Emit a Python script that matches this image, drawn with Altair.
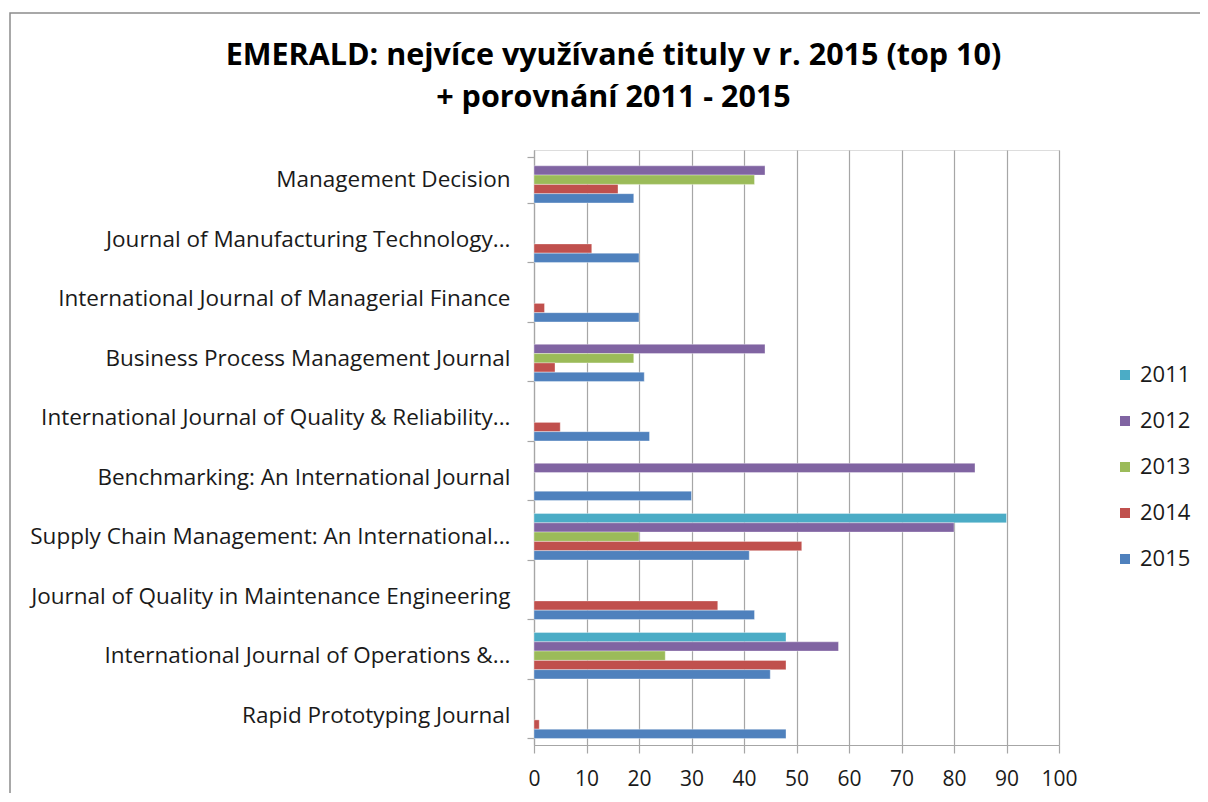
import altair as alt
import pandas as pd

journals = [
    "Management Decision",
    "Journal of Manufacturing Technology...",
    "International Journal of Managerial Finance",
    "Business Process Management Journal",
    "International Journal of Quality & Reliability...",
    "Benchmarking: An International Journal",
    "Supply Chain Management: An International...",
    "Journal of Quality in Maintenance Engineering",
    "International Journal of Operations &...",
    "Rapid Prototyping Journal",
]
years = ["2011", "2012", "2013", "2014", "2015"]
v2011 = [None, None, None, None, None, None, 90, None, 48, None]
v2012 = [44, None, None, 44, None, 84, 80, None, 58, None]
v2013 = [42, None, None, 19, None, None, 20, None, 25, None]
v2014 = [16, 11, 2, 4, 5, None, 51, 35, 48, 1]
v2015 = [19, 20, 20, 21, 22, 30, 41, 42, 45, 48]
colors = ["#4BACC6", "#8064A2", "#9BBB59", "#C0504D", "#4F81BD"]
x_ticks = [0, 10, 20, 30, 40, 50, 60, 70, 80, 90, 100]

rows = []
for yr, vals in zip(years, [v2011, v2012, v2013, v2014, v2015]):
    for j, v in zip(journals, vals):
        if v is not None:
            rows.append({"journal": j, "year": yr, "value": v})
df = pd.DataFrame(rows)

FONT = "Open Sans"
GRID = "#A6A6A6"
TEXT = "#1a1a1a"

bars = alt.Chart(df).mark_bar(stroke="white", strokeWidth=0.5, strokeOpacity=0.7).encode(
    x=alt.X("value:Q",
            scale=alt.Scale(domain=[0, 100], nice=False, zero=True),
            axis=alt.Axis(title=None, values=x_ticks, grid=True, gridColor=GRID,
                          gridWidth=1.2, domainColor=GRID, domainWidth=1.2,
                          tickColor=GRID, tickSize=8, tickWidth=1.2,
                          labelFont=FONT, labelFontSize=21, labelColor=TEXT,
                          labelPadding=15, labelFlush=False)),
    y=alt.Y("journal:N", sort=journals,
            scale=alt.Scale(paddingInner=0.22, paddingOuter=0.11),
            axis=alt.Axis(title=None, tickBand="extent", grid=False,
                          domainColor=GRID, domainWidth=1.2, tickColor=GRID,
                          tickSize=7, tickWidth=1.2, labelFont=FONT,
                          labelFontSize=22.5, labelColor=TEXT, labelPadding=17,
                          labelLimit=600)),
    yOffset=alt.YOffset("year:N", sort=years),
    color=alt.Color("year:N",
                    scale=alt.Scale(domain=years, range=colors),
                    legend=alt.Legend(title=None, orient="none", legendX=580,
                                      legendY=214, symbolType="square",
                                      symbolSize=100, symbolStrokeWidth=0,
                                      labelFont=FONT, labelFontSize=22,
                                      labelColor=TEXT, rowPadding=24,
                                      labelOffset=4)),
)

border = alt.Chart(pd.DataFrame({"a": [0]})).mark_rect(
    filled=False, stroke="#8c8c8c", strokeWidth=1.5, clip=False
).encode(
    x=alt.value(-524), x2=alt.value(720), y=alt.value(-137), y2=alt.value(700)
)

chart = alt.layer(border, bars).properties(
    width=525,
    height=595,
    autosize=alt.AutoSizeParams(type="none"),
    padding={"left": 526, "top": 142, "right": 141, "bottom": 48},
    title=alt.Title(
        ["EMERALD: nejvíce využívané tituly v r. 2015 (top 10)",
         "+ porovnání 2011 - 2015"],
        font=FONT, fontSize=30.5, fontWeight="bold", color="#000000",
        anchor="middle", frame="group", dx=-183, lineHeight=42, offset=-101,
    ),
).configure_view(stroke=None).configure(background="white")

chart.save("out.html", embed_options={"renderer": "svg", "actions": False})
